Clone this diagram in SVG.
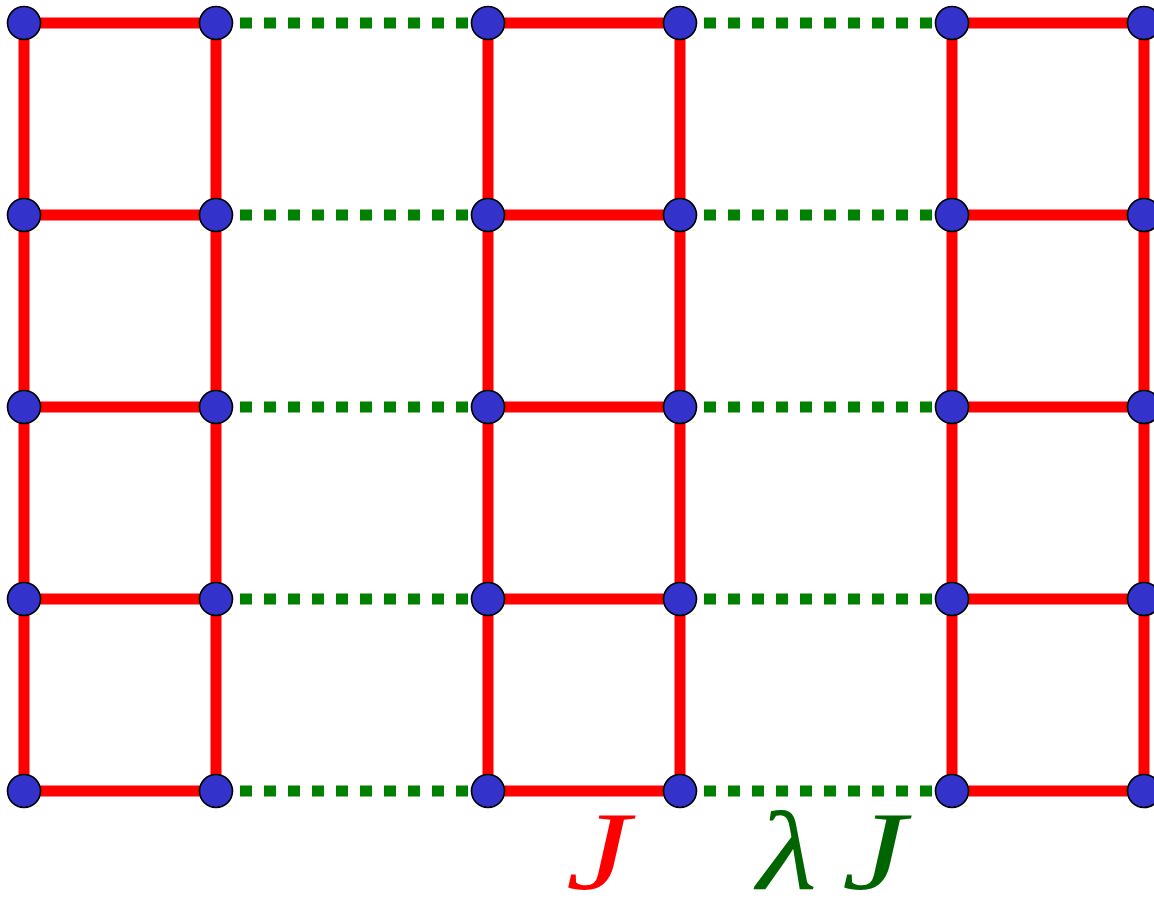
<svg xmlns="http://www.w3.org/2000/svg" width="1154" height="898" viewBox="0 0 1154 898">
<style>
.j{stroke:#ff0000;stroke-width:11;fill:none}
.l{stroke:#008000;stroke-width:11;stroke-dasharray:12 12;fill:none}
.n{fill:#3333cc;stroke:#000;stroke-width:1.6}
.t{font-family:"Liberation Serif",serif;font-style:italic;font-size:112px}
</style>
<rect width="1154" height="898" fill="#fff"/>
<g id="connectors">
<path class="j" d="M24 23V791M216 23V791M488 23V791M680 23V791M952 23V791M1144 23V791"/>
<path class="j" d="M24 23H216M24 215H216M24 407H216M24 599H216M24 791H216M488 23H680M488 215H680M488 407H680M488 599H680M488 791H680M952 23H1144M952 215H1144M952 407H1144M952 599H1144M952 791H1144"/>
<path class="l" d="M240 23H468M240 215H468M240 407H468M240 599H468M240 791H468M704 23H932M704 215H932M704 407H932M704 599H932M704 791H932"/>
</g>
<g id="n0"><circle class="n" cx="24" cy="23" r="16.5"/></g>
<g id="n1"><circle class="n" cx="216" cy="23" r="16.5"/></g>
<g id="n2"><circle class="n" cx="488" cy="23" r="16.5"/></g>
<g id="n3"><circle class="n" cx="680" cy="23" r="16.5"/></g>
<g id="n4"><circle class="n" cx="952" cy="23" r="16.5"/></g>
<g id="n5"><circle class="n" cx="1144" cy="23" r="16.5"/></g>
<g id="n6"><circle class="n" cx="24" cy="215" r="16.5"/></g>
<g id="n7"><circle class="n" cx="216" cy="215" r="16.5"/></g>
<g id="n8"><circle class="n" cx="488" cy="215" r="16.5"/></g>
<g id="n9"><circle class="n" cx="680" cy="215" r="16.5"/></g>
<g id="n10"><circle class="n" cx="952" cy="215" r="16.5"/></g>
<g id="n11"><circle class="n" cx="1144" cy="215" r="16.5"/></g>
<g id="n12"><circle class="n" cx="24" cy="407" r="16.5"/></g>
<g id="n13"><circle class="n" cx="216" cy="407" r="16.5"/></g>
<g id="n14"><circle class="n" cx="488" cy="407" r="16.5"/></g>
<g id="n15"><circle class="n" cx="680" cy="407" r="16.5"/></g>
<g id="n16"><circle class="n" cx="952" cy="407" r="16.5"/></g>
<g id="n17"><circle class="n" cx="1144" cy="407" r="16.5"/></g>
<g id="n18"><circle class="n" cx="24" cy="599" r="16.5"/></g>
<g id="n19"><circle class="n" cx="216" cy="599" r="16.5"/></g>
<g id="n20"><circle class="n" cx="488" cy="599" r="16.5"/></g>
<g id="n21"><circle class="n" cx="680" cy="599" r="16.5"/></g>
<g id="n22"><circle class="n" cx="952" cy="599" r="16.5"/></g>
<g id="n23"><circle class="n" cx="1144" cy="599" r="16.5"/></g>
<g id="n24"><circle class="n" cx="24" cy="791" r="16.5"/></g>
<g id="n25"><circle class="n" cx="216" cy="791" r="16.5"/></g>
<g id="n26"><circle class="n" cx="488" cy="791" r="16.5"/></g>
<g id="n27"><circle class="n" cx="680" cy="791" r="16.5"/></g>
<g id="n28"><circle class="n" cx="952" cy="791" r="16.5"/></g>
<g id="n29"><circle class="n" cx="1144" cy="791" r="16.5"/></g>
<g id="labels">
<text class="t" x="566" y="889" fill="#ff0000" textLength="64" lengthAdjust="spacingAndGlyphs">J</text>
<text class="t" x="757" y="889" fill="#006400" textLength="60" lengthAdjust="spacingAndGlyphs">λ</text>
<text class="t" x="842" y="889" fill="#006400" textLength="64" lengthAdjust="spacingAndGlyphs">J</text>
</g>
</svg>
